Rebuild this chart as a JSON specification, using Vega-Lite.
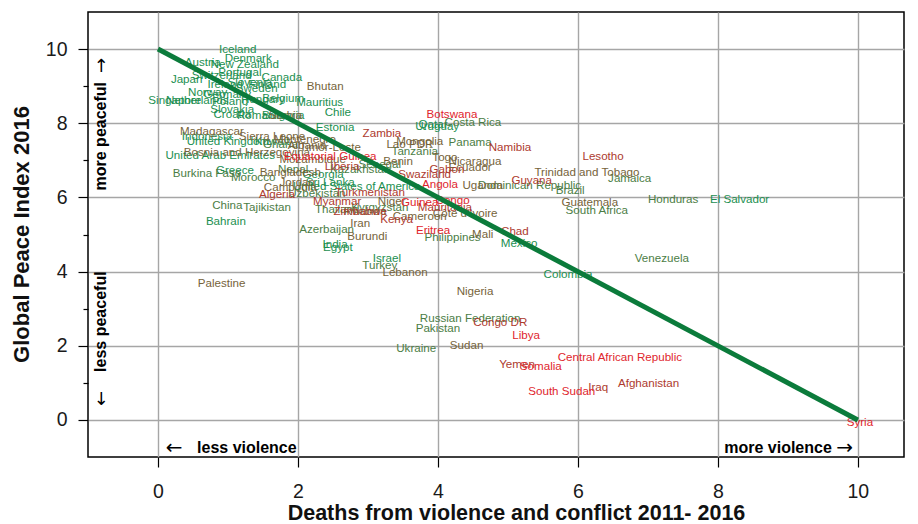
{
  "$schema": "https://vega.github.io/schema/vega-lite/v6.json",
  "width": 816,
  "height": 445,
  "autosize": {"type": "none"},
  "padding": {"left": 88, "top": 12, "right": 14, "bottom": 67},
  "config": {
    "view": {"stroke": "#000000", "strokeWidth": 1.5},
    "font": "Liberation Sans"
  },
  "datasets": {
    "countries": [
      {"country": "Iceland", "x": 1.14, "y": 9.97, "grp": "g1"},
      {"country": "Denmark", "x": 1.29, "y": 9.73, "grp": "g1"},
      {"country": "Austria", "x": 0.64, "y": 9.62, "grp": "g1"},
      {"country": "New Zealand", "x": 1.24, "y": 9.57, "grp": "g1"},
      {"country": "Portugal", "x": 1.17, "y": 9.35, "grp": "g1"},
      {"country": "Switzerland", "x": 0.91, "y": 9.27, "grp": "g1"},
      {"country": "Canada", "x": 1.77, "y": 9.22, "grp": "g1"},
      {"country": "Japan", "x": 0.41, "y": 9.16, "grp": "g1"},
      {"country": "Slovenia", "x": 1.31, "y": 9.08, "grp": "g1"},
      {"country": "Ireland", "x": 0.96, "y": 9.03, "grp": "g1"},
      {"country": "Finland", "x": 1.56, "y": 9.03, "grp": "g1"},
      {"country": "Sweden", "x": 1.41, "y": 8.92, "grp": "g1"},
      {"country": "Norway", "x": 0.71, "y": 8.81, "grp": "g1"},
      {"country": "Germany", "x": 0.99, "y": 8.76, "grp": "g1"},
      {"country": "Singapore", "x": 0.24, "y": 8.6, "grp": "g1"},
      {"country": "Netherlands", "x": 0.56, "y": 8.6, "grp": "g1"},
      {"country": "Poland", "x": 1.03, "y": 8.57, "grp": "g1"},
      {"country": "Hungary", "x": 1.5, "y": 8.63, "grp": "g1"},
      {"country": "Belgium", "x": 1.79, "y": 8.65, "grp": "g1"},
      {"country": "Mauritius", "x": 2.31, "y": 8.54, "grp": "g1"},
      {"country": "Slovakia", "x": 1.06, "y": 8.36, "grp": "g1"},
      {"country": "Croatia", "x": 1.06, "y": 8.22, "grp": "g1"},
      {"country": "Romania", "x": 1.46, "y": 8.19, "grp": "g1"},
      {"country": "Bulgaria", "x": 1.79, "y": 8.19, "grp": "g1"},
      {"country": "Serbia", "x": 1.82, "y": 8.2, "grp": "br"},
      {"country": "Chile", "x": 2.57, "y": 8.27, "grp": "g1"},
      {"country": "Estonia", "x": 2.53, "y": 7.87, "grp": "g1"},
      {"country": "Indonesia", "x": 0.7, "y": 7.63, "grp": "g1"},
      {"country": "United Kingdom", "x": 1.0, "y": 7.49, "grp": "g1"},
      {"country": "United Arab Emirates", "x": 0.89, "y": 7.12, "grp": "g1"},
      {"country": "Kuwait", "x": 1.63, "y": 7.49, "grp": "g1"},
      {"country": "Georgia", "x": 2.36, "y": 6.6, "grp": "g1"},
      {"country": "Sri Lanka", "x": 2.46, "y": 6.39, "grp": "g1"},
      {"country": "United States of America", "x": 2.84, "y": 6.28, "grp": "g1"},
      {"country": "Greece", "x": 1.1, "y": 6.71, "grp": "g1"},
      {"country": "Bahrain", "x": 0.97, "y": 5.34, "grp": "g1"},
      {"country": "India", "x": 2.53, "y": 4.72, "grp": "g1"},
      {"country": "Egypt", "x": 2.57, "y": 4.64, "grp": "g1"},
      {"country": "Israel", "x": 3.27, "y": 4.34, "grp": "g1"},
      {"country": "Qatar", "x": 3.93, "y": 7.95, "grp": "g1"},
      {"country": "Uruguay", "x": 3.99, "y": 7.9, "grp": "g1"},
      {"country": "El Salvador", "x": 8.31, "y": 5.93, "grp": "g1"},
      {"country": "Colombia", "x": 5.86, "y": 3.91, "grp": "g1"},
      {"country": "Mexico", "x": 5.16, "y": 4.74, "grp": "g1"},
      {"country": "Burkina Faso", "x": 0.7, "y": 6.63, "grp": "g2"},
      {"country": "Morocco", "x": 1.36, "y": 6.52, "grp": "g2"},
      {"country": "Nepal", "x": 1.93, "y": 6.74, "grp": "g2"},
      {"country": "Kazakhstan", "x": 2.89, "y": 6.74, "grp": "g2"},
      {"country": "Uzbekistan", "x": 2.27, "y": 6.09, "grp": "g2"},
      {"country": "Thailand", "x": 2.56, "y": 5.66, "grp": "g2"},
      {"country": "Kyrgyzstan", "x": 3.17, "y": 5.71, "grp": "g2"},
      {"country": "China", "x": 0.99, "y": 5.77, "grp": "g2"},
      {"country": "Tajikistan", "x": 1.56, "y": 5.71, "grp": "g2"},
      {"country": "Azerbaijan", "x": 2.41, "y": 5.12, "grp": "g2"},
      {"country": "Turkey", "x": 3.17, "y": 4.15, "grp": "g2"},
      {"country": "Philippines", "x": 4.21, "y": 4.9, "grp": "g2"},
      {"country": "Costa Rica", "x": 4.5, "y": 8.0, "grp": "g2"},
      {"country": "Panama", "x": 4.46, "y": 7.47, "grp": "g2"},
      {"country": "Tanzania", "x": 3.67, "y": 7.22, "grp": "g2"},
      {"country": "Senegal", "x": 3.17, "y": 6.87, "grp": "g2"},
      {"country": "Ghana", "x": 1.75, "y": 7.42, "grp": "g2"},
      {"country": "Dominican Republic", "x": 5.31, "y": 6.31, "grp": "g2"},
      {"country": "Brazil", "x": 5.89, "y": 6.17, "grp": "g2"},
      {"country": "Jamaica", "x": 6.74, "y": 6.5, "grp": "g2"},
      {"country": "Honduras", "x": 7.36, "y": 5.93, "grp": "g2"},
      {"country": "South Africa", "x": 6.27, "y": 5.64, "grp": "g2"},
      {"country": "Venezuela", "x": 7.2, "y": 4.34, "grp": "g2"},
      {"country": "Russian Federation", "x": 4.46, "y": 2.72, "grp": "g2"},
      {"country": "Pakistan", "x": 4.0, "y": 2.45, "grp": "g2"},
      {"country": "Ukraine", "x": 3.69, "y": 1.91, "grp": "g2"},
      {"country": "Bhutan", "x": 2.39, "y": 8.98, "grp": "br"},
      {"country": "Madagascar", "x": 0.77, "y": 7.76, "grp": "br"},
      {"country": "Sierra Leone", "x": 1.63, "y": 7.63, "grp": "br"},
      {"country": "Bosnia and Herzegovina", "x": 1.27, "y": 7.2, "grp": "br"},
      {"country": "Albania", "x": 2.13, "y": 7.39, "grp": "br"},
      {"country": "Montenegro", "x": 2.1, "y": 7.55, "grp": "br"},
      {"country": "Timor-Leste", "x": 2.46, "y": 7.33, "grp": "br"},
      {"country": "Mozambique", "x": 2.21, "y": 7.0, "grp": "br"},
      {"country": "Bangladesh", "x": 1.89, "y": 6.66, "grp": "br"},
      {"country": "Jordan", "x": 1.99, "y": 6.39, "grp": "br"},
      {"country": "Cambodia", "x": 1.89, "y": 6.25, "grp": "br"},
      {"country": "Niger", "x": 3.34, "y": 5.88, "grp": "br"},
      {"country": "Rwanda", "x": 2.96, "y": 5.6, "grp": "br"},
      {"country": "Cameroon", "x": 3.74, "y": 5.47, "grp": "br"},
      {"country": "Iran", "x": 2.89, "y": 5.28, "grp": "br"},
      {"country": "Burundi", "x": 2.99, "y": 4.93, "grp": "br"},
      {"country": "Lebanon", "x": 3.53, "y": 3.96, "grp": "br"},
      {"country": "Palestine", "x": 0.91, "y": 3.67, "grp": "br"},
      {"country": "Mongolia", "x": 3.74, "y": 7.49, "grp": "br"},
      {"country": "Lao PDR", "x": 3.6, "y": 7.41, "grp": "br"},
      {"country": "Benin", "x": 3.43, "y": 6.95, "grp": "br"},
      {"country": "Togo", "x": 4.1, "y": 7.06, "grp": "br"},
      {"country": "Nicaragua", "x": 4.53, "y": 6.95, "grp": "br"},
      {"country": "Ecuador", "x": 4.46, "y": 6.79, "grp": "br"},
      {"country": "Uganda", "x": 4.64, "y": 6.31, "grp": "br"},
      {"country": "Côte d'Ivoire", "x": 4.39, "y": 5.55, "grp": "br"},
      {"country": "Trinidad and Tobago", "x": 6.13, "y": 6.66, "grp": "br"},
      {"country": "Guatemala", "x": 6.17, "y": 5.85, "grp": "br"},
      {"country": "Mali", "x": 4.64, "y": 4.99, "grp": "br"},
      {"country": "Nigeria", "x": 4.53, "y": 3.45, "grp": "br"},
      {"country": "Sudan", "x": 4.41, "y": 1.99, "grp": "br"},
      {"country": "Zambia", "x": 3.2, "y": 7.71, "grp": "dr"},
      {"country": "Liberia", "x": 2.63, "y": 6.82, "grp": "dr"},
      {"country": "Algeria", "x": 1.7, "y": 6.06, "grp": "dr"},
      {"country": "Turkmenistan", "x": 3.03, "y": 6.12, "grp": "dr"},
      {"country": "Myanmar", "x": 2.56, "y": 5.88, "grp": "dr"},
      {"country": "Zimbabwe", "x": 2.89, "y": 5.61, "grp": "dr"},
      {"country": "Kenya", "x": 3.41, "y": 5.39, "grp": "dr"},
      {"country": "Namibia", "x": 5.03, "y": 7.33, "grp": "dr"},
      {"country": "Swaziland", "x": 3.81, "y": 6.6, "grp": "dr"},
      {"country": "Gabon", "x": 4.13, "y": 6.74, "grp": "dr"},
      {"country": "Mauritania", "x": 4.1, "y": 5.71, "grp": "dr"},
      {"country": "Guyana", "x": 5.34, "y": 6.44, "grp": "dr"},
      {"country": "Lesotho", "x": 6.36, "y": 7.09, "grp": "dr"},
      {"country": "Chad", "x": 5.1, "y": 5.07, "grp": "dr"},
      {"country": "Congo DR", "x": 4.89, "y": 2.61, "grp": "dr"},
      {"country": "Yemen", "x": 5.13, "y": 1.48, "grp": "dr"},
      {"country": "Iraq", "x": 6.29, "y": 0.86, "grp": "dr"},
      {"country": "Afghanistan", "x": 7.01, "y": 0.97, "grp": "dr"},
      {"country": "Botswana", "x": 4.2, "y": 8.22, "grp": "r"},
      {"country": "Equatorial Guinea", "x": 2.46, "y": 7.09, "grp": "r"},
      {"country": "Guinea", "x": 3.74, "y": 5.85, "grp": "r"},
      {"country": "Congo", "x": 4.21, "y": 5.9, "grp": "r"},
      {"country": "Angola", "x": 4.03, "y": 6.33, "grp": "r"},
      {"country": "Eritrea", "x": 3.93, "y": 5.09, "grp": "r"},
      {"country": "Libya", "x": 5.26, "y": 2.26, "grp": "r"},
      {"country": "Somalia", "x": 5.47, "y": 1.43, "grp": "r"},
      {"country": "Central African Republic", "x": 6.6, "y": 1.67, "grp": "r"},
      {"country": "South Sudan", "x": 5.77, "y": 0.75, "grp": "r"},
      {"country": "Syria", "x": 10.03, "y": -0.08, "grp": "r"}
    ],
    "trend": [
      {"x": 0, "y": 10},
      {"x": 10, "y": 0}
    ],
    "notes": [
      {"label": "less violence", "x": 1.27, "y": -0.75, "kind": "h"},
      {"label": "more violence", "x": 8.86, "y": -0.75, "kind": "h"},
      {"label": "more peaceful", "x": -0.81, "y": 7.65, "kind": "v"},
      {"label": "less peaceful", "x": -0.81, "y": 2.65, "kind": "v"},
      {"label": "←", "x": 0.23, "y": -0.75, "kind": "ah"},
      {"label": "→", "x": 9.81, "y": -0.75, "kind": "ah"},
      {"label": "↑", "x": -0.81, "y": 9.51, "kind": "av"},
      {"label": "↓", "x": -0.81, "y": 0.54, "kind": "av"}
    ]
  },
  "encoding": {
    "x": {
      "field": "x",
      "type": "quantitative",
      "scale": {"domain": [-1, 10.66], "nice": false, "zero": false},
      "axis": {
        "values": [0, 2, 4, 6, 8, 10],
        "title": "Deaths from violence and conflict 2011- 2016",
        "titleFontSize": 21.5,
        "titleFontWeight": "bold",
        "titleColor": "#111111",
        "titlePadding": 2,
        "titleX": 428,
        "labelFontSize": 19.5,
        "labelColor": "#1a1a1a",
        "labelPadding": 15,
        "tickSize": 10,
        "tickColor": "#000000",
        "tickWidth": 1.2,
        "domain": false,
        "grid": true,
        "gridColor": "#a6a6a6",
        "gridWidth": 1.4
      }
    },
    "y": {
      "field": "y",
      "type": "quantitative",
      "scale": {"domain": [-1, 11], "nice": false, "zero": false},
      "axis": {
        "values": [0, 1, 2, 3, 4, 5, 6, 7, 8, 9, 10],
        "labelExpr": "datum.value % 2 === 0 ? datum.label : ''",
        "title": "Global Peace Index 2016",
        "titleFontSize": 22,
        "titleFontWeight": "bold",
        "titleColor": "#111111",
        "titlePadding": 12,
        "titleY": 222,
        "labelFontSize": 19.5,
        "labelColor": "#1a1a1a",
        "labelPadding": 11,
        "tickSize": {"condition": {"test": "datum.value % 2 === 0", "value": 10}, "value": 5},
        "tickColor": "#000000",
        "tickWidth": 1.2,
        "domain": false,
        "grid": true,
        "gridColor": "#a6a6a6",
        "gridWidth": 1.4,
        "gridOpacity": {"condition": {"test": "datum.value % 2 === 0", "value": 1}, "value": 0}
      }
    }
  },
  "layer": [
    {
      "data": {"name": "countries"},
      "mark": {"type": "text", "fontSize": 11.6, "baseline": "middle", "align": "center"},
      "encoding": {
        "text": {"field": "country"},
        "color": {
          "field": "grp",
          "type": "nominal",
          "scale": {
            "domain": ["g1", "g2", "br", "dr", "r"],
            "range": ["#1b8f50", "#4b7d45", "#76633a", "#ad3a2e", "#e0252d"]
          },
          "legend": null
        }
      }
    },
    {
      "data": {"name": "notes"},
      "transform": [{"filter": "datum.kind === 'h'"}],
      "mark": {"type": "text", "fontSize": 16, "fontWeight": "bold", "baseline": "middle", "align": "center", "color": "#000000"},
      "encoding": {"text": {"field": "label"}}
    },
    {
      "data": {"name": "notes"},
      "transform": [{"filter": "datum.kind === 'v'"}],
      "mark": {"type": "text", "fontSize": 16, "fontWeight": "bold", "baseline": "middle", "align": "center", "angle": 270, "color": "#000000"},
      "encoding": {"text": {"field": "label"}}
    },
    {
      "data": {"name": "notes"},
      "transform": [{"filter": "datum.kind === 'ah'"}],
      "mark": {"type": "text", "font": "DejaVu Sans", "fontSize": 20, "baseline": "middle", "align": "center", "color": "#000000"},
      "encoding": {"text": {"field": "label"}}
    },
    {
      "data": {"name": "notes"},
      "transform": [{"filter": "datum.kind === 'av'"}],
      "mark": {"type": "text", "font": "DejaVu Sans", "fontSize": 18, "baseline": "middle", "align": "center", "color": "#000000"},
      "encoding": {"text": {"field": "label"}}
    },
    {
      "data": {"name": "trend"},
      "mark": {"type": "line", "color": "#0b7b3b", "strokeWidth": 5},
      "encoding": {}
    }
  ]
}
